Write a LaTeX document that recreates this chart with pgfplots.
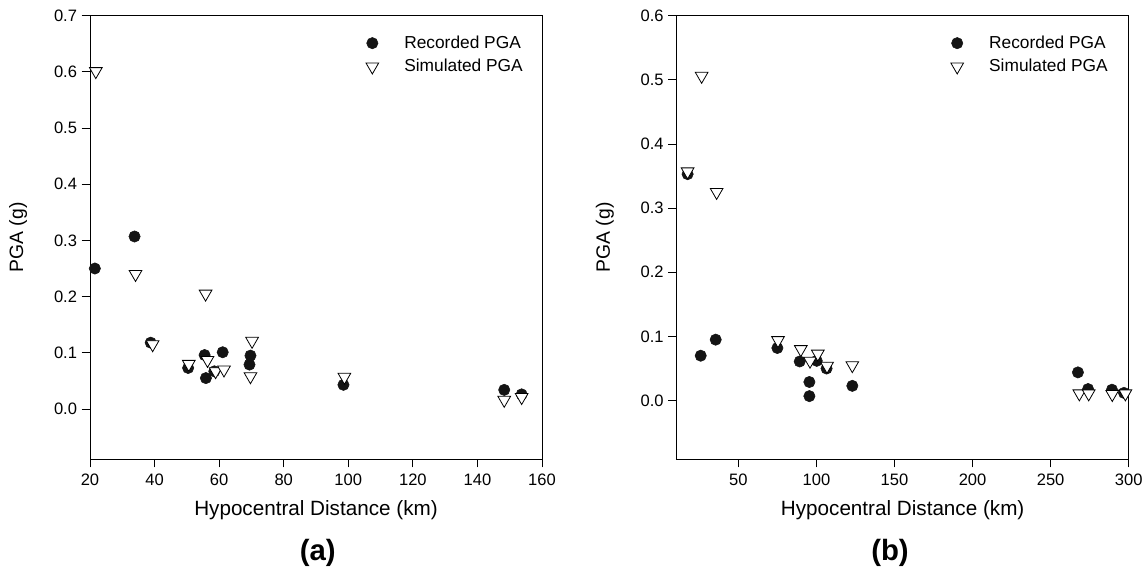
\documentclass[border=0pt]{standalone}
\usepackage{fontspec}
\setmainfont{Liberation Sans}
\usepackage{pgfplots}
\pgfplotsset{compat=1.18}

\definecolor{dotblack}{HTML}{141414}

\pgfplotsset{
  pgapanel/.style={
    scale only axis,
    width=339pt, height=332.5pt,
    clip=false,
    axis line style={line width=0.7pt, black},
    tick align=outside,
    xtick pos=bottom, ytick pos=left,
    major tick length=6.2pt,
    tick style={line width=0.7pt, black},
    ticklabel style={font=\fontsize{12.4}{14}\selectfont},
    x tick label style={/pgf/number format/assume math mode=true, yshift=-1.7pt},
    y tick label style={/pgf/number format/.cd, fixed, fixed zerofill, precision=1, assume math mode=true},
    xlabel={Hypocentral Distance (km)},
    ylabel={PGA (g)},
    xlabel style={font=\fontsize{15.5}{18}\selectfont, at={(axis description cs:0.5,-0.115)}, anchor=center},
    ylabel style={font=\fontsize{14.5}{17}\selectfont, at={(axis description cs:-0.159,0.5)}, anchor=center},
    legend cell align=left,
    legend image code/.code={\draw[mark repeat=1, mark phase=1, #1] plot coordinates {(0pt,0pt)};},
    legend style={draw=none, fill=none, inner xsep=0pt, inner ysep=0pt,
      nodes={inner sep=0pt, text depth=0.15em}, column sep=19.2pt, row sep=6.7pt,
      font=\fontsize{13}{15}\selectfont, anchor=north west},
  },
  recorded/.style={only marks, mark=*, mark size=4.25pt, mark options={draw=dotblack, fill=dotblack}},
  simulated/.style={only marks, mark=triangle*, mark size=5.5pt, mark options={rotate=180, draw=black, fill=white, line width=0.6pt}},
}

\begin{document}
\begin{tikzpicture}
\path[use as bounding box] (-67.5pt,-88.5pt) rectangle (792pt,344.25pt);

% (a)
\begin{axis}[pgapanel,
  at={(0pt,0pt)}, anchor=south west,
  xmin=20, xmax=160, ymin=-0.089, ymax=0.7,
  xtick={20,40,60,80,100,120,140,160},
  ytick={0,0.1,0.2,0.3,0.4,0.5,0.6,0.7},
  legend style={at={(axis description cs:0.610,0.955)}},
]
\addplot[recorded] coordinates {
  (21.5,0.250) (33.8,0.307) (38.8,0.118) (50.4,0.073) (55.5,0.096)
  (55.9,0.055) (58.5,0.067) (61.1,0.101) (69.7,0.095) (69.4,0.079)
  (98.5,0.043) (148.3,0.034) (153.7,0.026)
};
\addplot[simulated] coordinates {
  (21.8,0.601) (34.1,0.240) (39.4,0.115) (50.6,0.080) (55.8,0.205)
  (56.4,0.087) (58.9,0.067) (61.5,0.070) (70.2,0.121) (69.7,0.058)
  (98.8,0.057) (148.3,0.016) (153.7,0.021)
};
\legend{Recorded PGA, Simulated PGA}
\node[font=\bfseries\fontsize{22}{26}\selectfont] at (axis description cs:0.504,-0.212) {(a)};
\end{axis}

% (b)
\begin{axis}[pgapanel,
  at={(440pt,0pt)}, anchor=south west,
  xmin=10.5, xmax=300, ymin=-0.091, ymax=0.6,
  xtick={50,100,150,200,250,300},
  ytick={0,0.1,0.2,0.3,0.4,0.5,0.6},
  legend style={at={(axis description cs:0.606,0.955)}},
]
\addplot[recorded] coordinates {
  (17.5,0.353) (25.9,0.070) (35.5,0.095) (75.0,0.082) (89.3,0.061)
  (95.5,0.029) (95.5,0.007) (100.2,0.062) (106.5,0.050) (123.0,0.023)
  (267.5,0.044) (274.0,0.018) (289.3,0.017) (297.0,0.012)
};
\addplot[simulated] coordinates {
  (17.5,0.357) (26.5,0.506) (36.1,0.325) (75.4,0.094) (90.0,0.080)
  (95.9,0.062) (100.9,0.073) (106.8,0.054) (123.0,0.055)
  (268.4,0.011) (274.4,0.011) (289.5,0.010) (297.9,0.011)
};
\legend{Recorded PGA, Simulated PGA}
\node[font=\bfseries\fontsize{22}{26}\selectfont] at (axis description cs:0.472,-0.212) {(b)};
\end{axis}
\end{tikzpicture}
\end{document}
